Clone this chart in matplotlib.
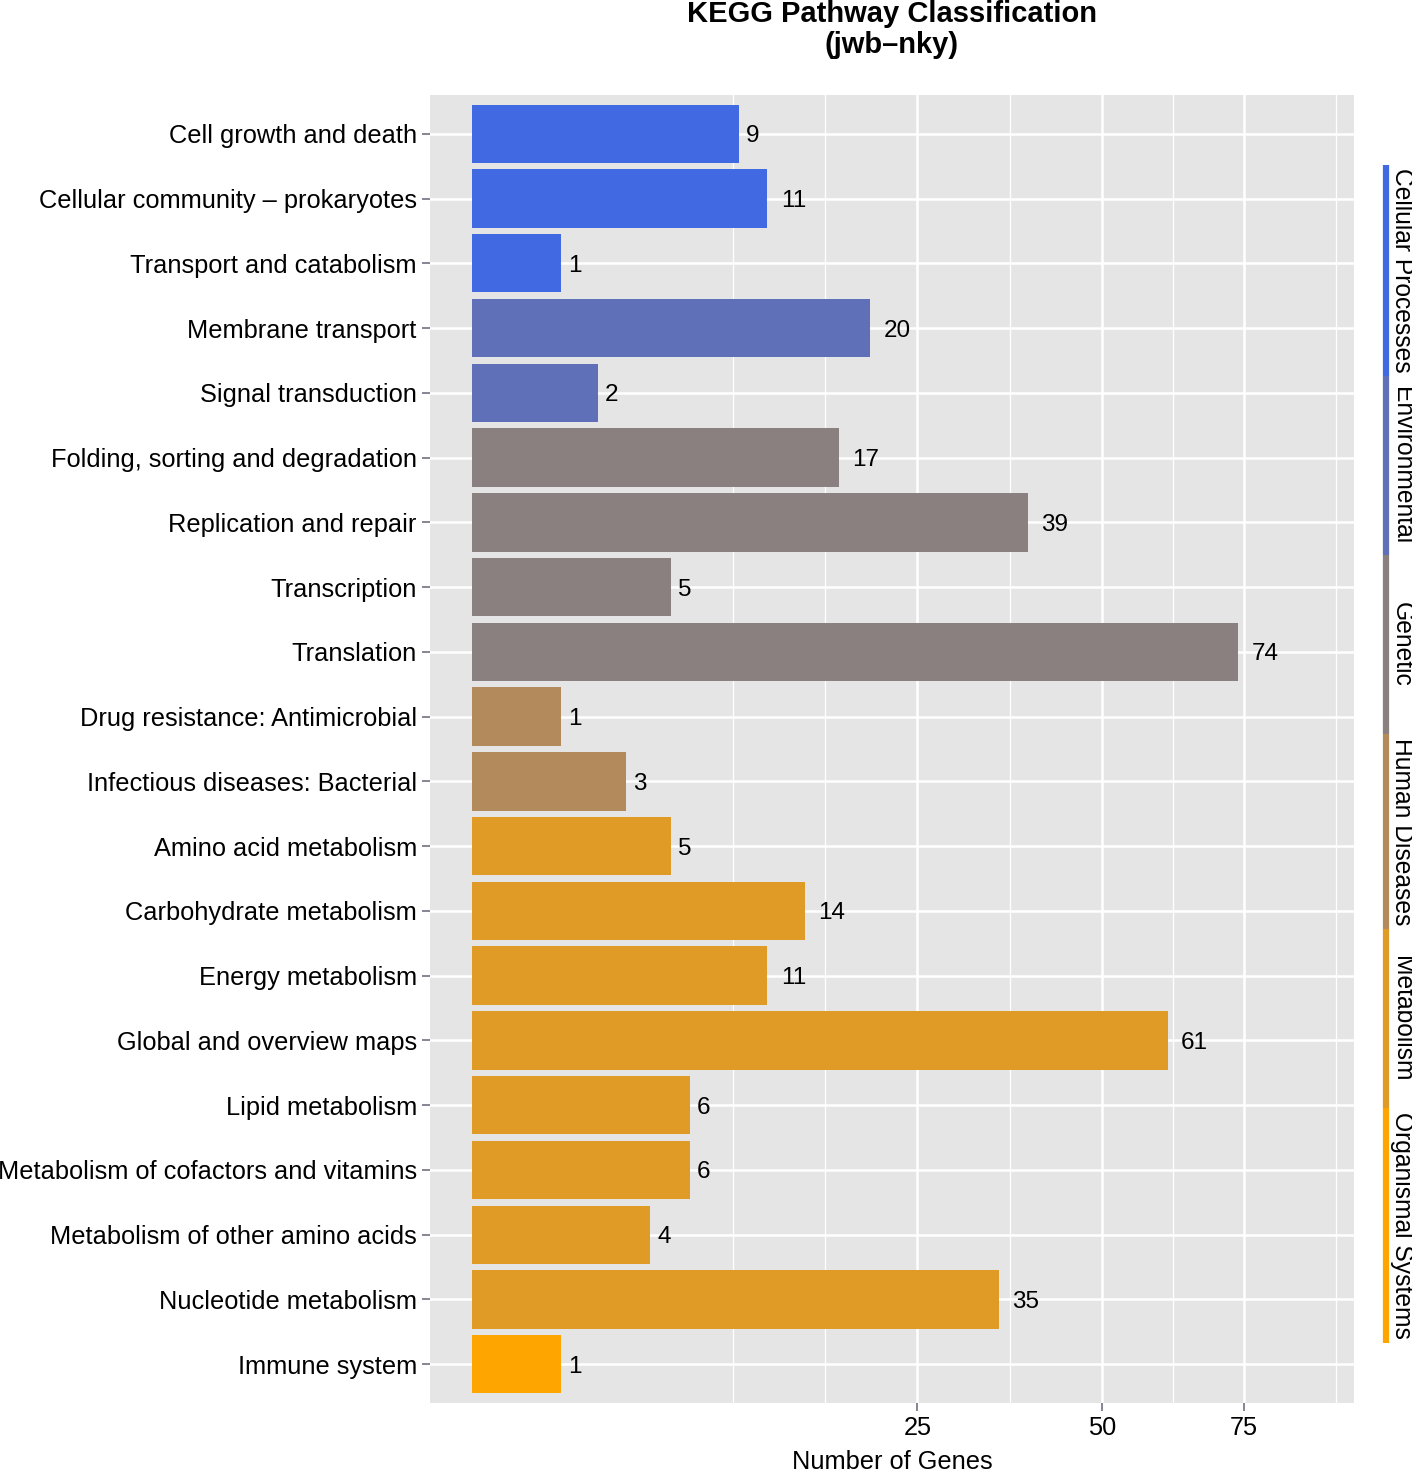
import numpy as np
import matplotlib
matplotlib.use('Agg')
import matplotlib.pyplot as plt
from matplotlib.lines import Line2D

plt.rcParams['font.family'] = ['Liberation Sans', 'DejaVu Sans']

# ---------------- data ----------------
categories = [
    "Cell growth and death",
    "Cellular community \u2013 prokaryotes",
    "Transport and catabolism",
    "Membrane transport",
    "Signal transduction",
    "Folding, sorting and degradation",
    "Replication and repair",
    "Transcription",
    "Translation",
    "Drug resistance: Antimicrobial",
    "Infectious diseases: Bacterial",
    "Amino acid metabolism",
    "Carbohydrate metabolism",
    "Energy metabolism",
    "Global and overview maps",
    "Lipid metabolism",
    "Metabolism of cofactors and vitamins",
    "Metabolism of other amino acids",
    "Nucleotide metabolism",
    "Immune system",
]
counts = [9, 11, 1, 20, 2, 17, 39, 5, 74, 1, 3, 5, 14, 11, 61, 6, 6, 4, 35, 1]
group_names = ["Cellular Processes", "Environmental", "Genetic",
               "Human Diseases", "Metabolism", "Organismal Systems"]
group_sizes = [3, 2, 4, 2, 8, 1]
group_colors = ["#4169E1", "#6070B8", "#8A8080", "#B38A5C", "#E09B26", "#FFA500"]
x_ticks = [25, 50, 75]

title = "KEGG Pathway Classification\n(jwb\u2013nky)"
xlabel = "Number of Genes"

# ---------------- figure ----------------
W, H = 1412, 1472
fig = plt.figure(figsize=(W / 100, H / 100), dpi=100)
ax = fig.add_axes([430 / W, 1 - 1403 / H, (1354 - 430) / W, (1403 - 95) / H])
ax.set_facecolor("#E5E5E5")

fwd = lambda x: np.sign(x) * np.sqrt(np.abs(x))
inv = lambda y: np.sign(y) * y ** 2
ax.set_xscale("function", functions=(fwd, inv))

bar_colors = []
for c, n in zip(group_colors, group_sizes):
    bar_colors += [c] * n

ypos = np.arange(len(categories))
ax.barh(ypos, counts, left=0, height=0.9, color=bar_colors, zorder=3)

for y, v in zip(ypos, counts):
    lab = str(v)
    ax.annotate(lab, (v, y), xytext=(0.5 + 4.5 * len(lab), 0), textcoords="offset points",
                ha="left", va="center_baseline", fontsize=17.5, color="black", zorder=4)

ax.set_ylim(len(categories) - 0.4, -0.6)
ax.set_xlim(inv(-0.471), inv(9.90))

# ggplot-like minor breaks in sqrt space
b = fwd(np.array(x_ticks, dtype=float))
bd = b[1] - b[0]
ext = np.concatenate([[b[0] - bd], b, [b[-1] + bd]])
minors_t = list((ext[:-1] + ext[1:]) / 2) + [b[0] - bd]
minors = [inv(m) for m in minors_t]

ax.set_xticks(x_ticks)
ax.set_xticks(minors, minor=True)
ax.set_yticks(ypos)
ax.set_yticklabels(categories)

ax.grid(True, which="major", axis="both", color="white", linewidth=1.8, zorder=0)
ax.grid(True, which="minor", axis="x", color="white", linewidth=0.9, zorder=0)
ax.set_axisbelow(True)
for s in ax.spines.values():
    s.set_visible(False)

ax.tick_params(axis="both", which="major", length=5.5, width=1.1, color="#666677",
               labelsize=18.3, labelcolor="black")
ax.tick_params(axis="y", pad=4)
ax.tick_params(axis="x", pad=4)
ax.tick_params(axis="x", which="minor", length=0)

# title and axis label
cx = (430 + 1354) / 2 / W
fig.text(cx, 1 - 0 / H, title, ha="center", va="top", fontsize=21,
         fontweight="bold", linespacing=1.12)
fig.text(cx, 1 - 1462 / H, xlabel, ha="center", va="center", fontsize=18.3)

# right-hand group strip
bounds = [165, 376, 555, 734, 929, 1108, 1343]
for i, (name, col) in enumerate(zip(group_names, group_colors)):
    y0, y1 = bounds[i], bounds[i + 1]
    fig.add_artist(Line2D([1386 / W, 1386 / W], [1 - y0 / H, 1 - y1 / H],
                          color=col, linewidth=4.5, solid_capstyle="butt"))
    fig.text(1402 / W, 1 - (y0 + y1) / 2 / H, name, rotation=-90, ha="center",
             va="center", fontsize=17.7, color="black")

fig.savefig("out.png", dpi=100)
